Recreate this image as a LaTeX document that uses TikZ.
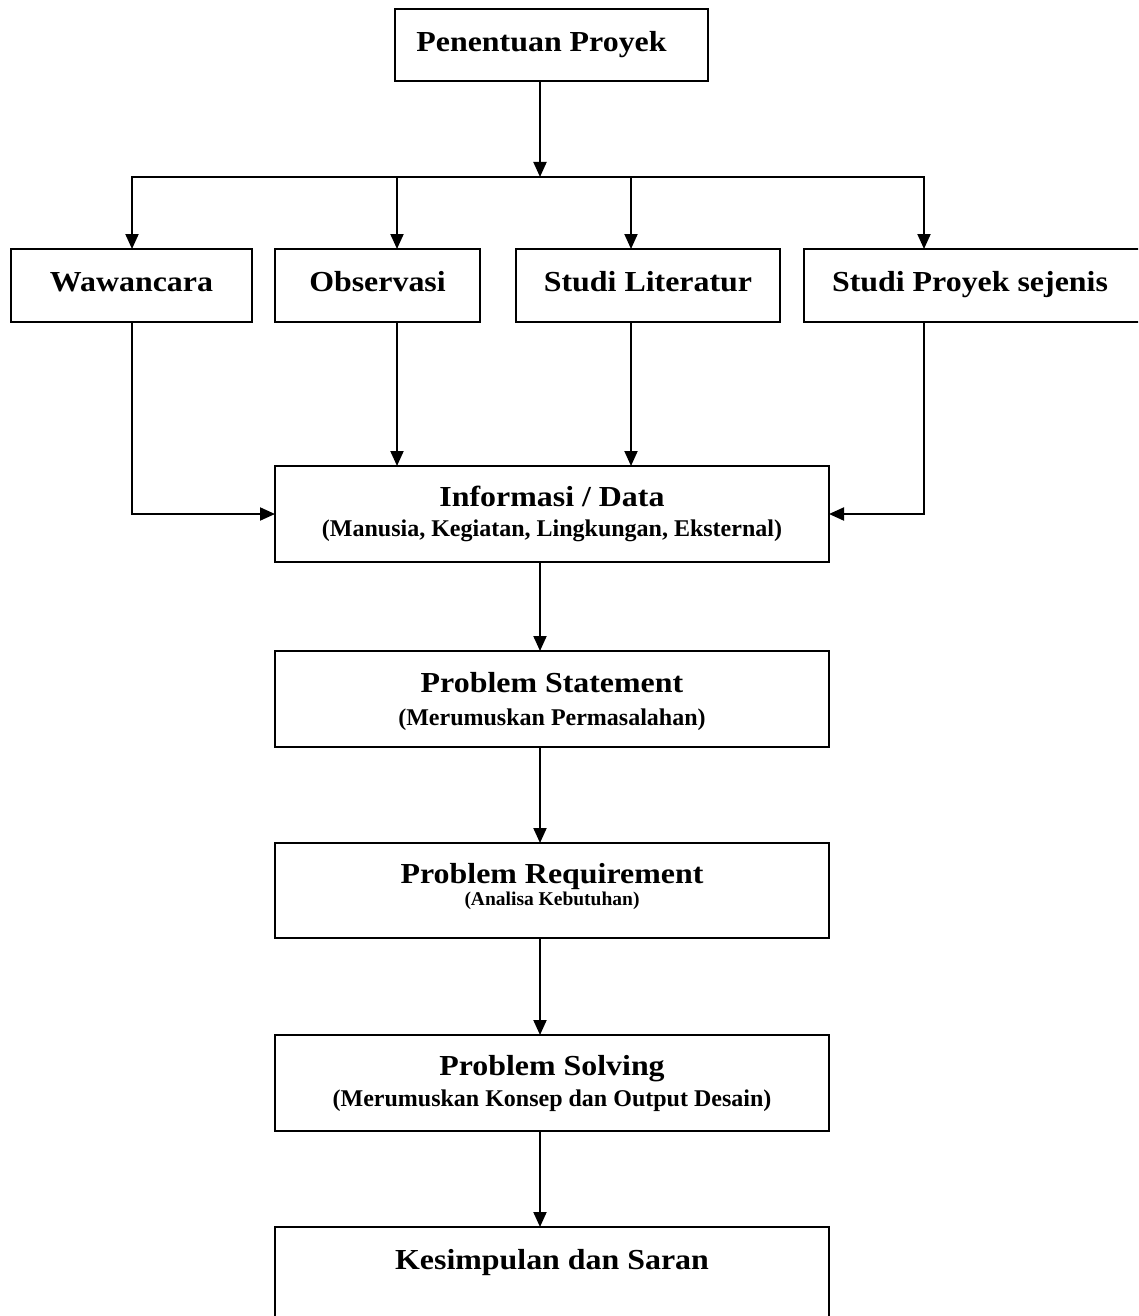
\documentclass[tikz,border=0pt]{standalone}
\usepackage{fontspec}
\setmainfont{Liberation Serif}
\newfontfamily\wfont{Liberation Serif}[FakeStretch=1.1]
\usetikzlibrary{arrows.meta}
\begin{document}
\begin{tikzpicture}[x=1pt,y=-1pt,
  box/.style={draw, line width=2pt, inner sep=0pt, outer sep=0pt, anchor=north west},
  ttl/.style={anchor=base, inner sep=0pt, font=\wfont\bfseries\fontsize{29}{29}\selectfont},
  sub/.style={anchor=base, inner sep=0pt, font=\bfseries\fontsize{24}{24}\selectfont},
  subs/.style={anchor=base, inner sep=0pt, font=\bfseries\fontsize{19.5}{19.5}\selectfont},
  arr/.style={line width=2pt, -{Triangle[length=15pt,width=13pt]}},
  ln/.style={line width=2pt, line cap=rect}]
\useasboundingbox (0,0) rectangle (1138,1316);
\begin{scope}
\clip (0,0) rectangle (1138,1316);
% boxes
\node[box, minimum width=313pt, minimum height=72pt] (top) at (395,9) {};
\node[box, minimum width=241pt, minimum height=73pt] (wa) at (11,249) {};
\node[box, minimum width=205pt, minimum height=73pt] (ob) at (275,249) {};
\node[box, minimum width=264pt, minimum height=73pt] (sl) at (516,249) {};
\node[box, minimum width=340pt, minimum height=73pt] (sp) at (804,249) {};
\node[box, minimum width=554pt, minimum height=96pt] (info) at (275,466) {};
\node[box, minimum width=554pt, minimum height=96pt] (ps) at (275,651) {};
\node[box, minimum width=554pt, minimum height=95pt] (pr) at (275,843) {};
\node[box, minimum width=554pt, minimum height=96pt] (pso) at (275,1035) {};
\node[box, minimum width=554pt, minimum height=130pt] (kes) at (275,1227) {};
% texts
\node[ttl] (top-t) at ([xshift=-10pt,yshift=-43pt]top.north) {Penentuan Proyek};
\node[ttl] (wa-t) at ([yshift=-42pt]wa.north) {Wawancara};
\node[ttl] (ob-t) at ([yshift=-42pt]ob.north) {Observasi};
\node[ttl] (sl-t) at ([yshift=-42pt]sl.north) {Studi Literatur};
\node[ttl] (sp-t) at ([xshift=-4pt,yshift=-42pt]sp.north) {Studi Proyek sejenis};
\node[ttl] (info-t) at ([yshift=-40pt]info.north) {Informasi / Data};
\node[sub] (info-s) at ([yshift=-70pt]info.north) {(Manusia, Kegiatan, Lingkungan, Eksternal)};
\node[ttl] (ps-t) at ([yshift=-41pt]ps.north) {Problem Statement};
\node[sub] (ps-s) at ([yshift=-74pt]ps.north) {(Merumuskan Permasalahan)};
\node[ttl] (pr-t) at ([yshift=-40pt]pr.north) {Problem Requirement};
\node[subs] (pr-s) at ([yshift=-62pt]pr.north) {(Analisa Kebutuhan)};
\node[ttl] (pso-t) at ([yshift=-40pt]pso.north) {Problem Solving};
\node[sub] (pso-s) at ([yshift=-71pt]pso.north) {(Merumuskan Konsep dan Output Desain)};
\node[ttl] (kes-t) at ([yshift=-42pt]kes.north) {Kesimpulan dan Saran};
% junctions
\coordinate (jc) at (540,177);
\coordinate (j1) at (132,177);
\coordinate (j2) at (397,177);
\coordinate (j3) at (631,177);
\coordinate (j4) at (924,177);
% connectors
\draw[arr] (top.south -| jc) -- (jc);
\draw[ln] (j1) -- (j4);
\draw[arr] (j1) -- (j1 |- wa.north);
\draw[arr] (j2) -- (j2 |- ob.north);
\draw[arr] (j3) -- (j3 |- sl.north);
\draw[arr] (j4) -- (j4 |- sp.north);
\draw[arr] (j1 |- wa.south) |- (info.west);
\draw[arr] (j4 |- sp.south) |- (info.east);
\draw[arr] (j2 |- ob.south) -- (j2 |- info.north);
\draw[arr] (j3 |- sl.south) -- (j3 |- info.north);
\draw[arr] (jc |- info.south) -- (jc |- ps.north);
\draw[arr] (jc |- ps.south) -- (jc |- pr.north);
\draw[arr] (jc |- pr.south) -- (jc |- pso.north);
\draw[arr] (jc |- pso.south) -- (jc |- kes.north);
\end{scope}
\end{tikzpicture}
\end{document}
